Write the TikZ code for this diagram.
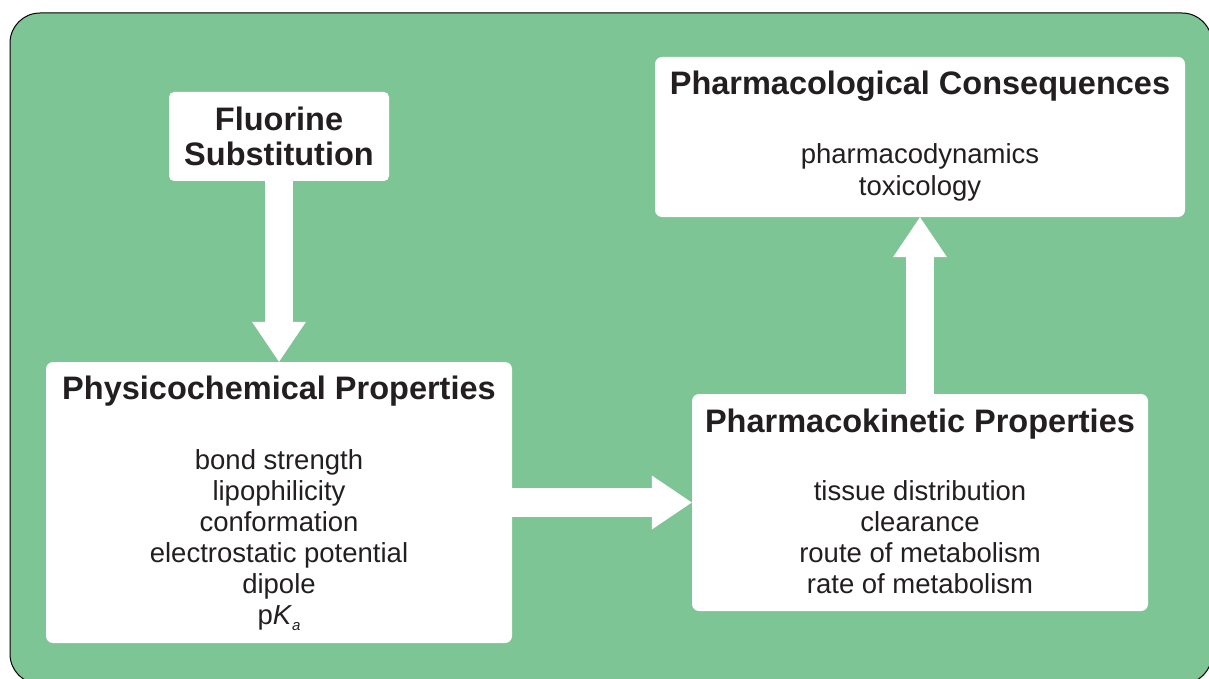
\documentclass[tikz,border=0pt]{standalone}
\usepackage{fontspec}
\setmainfont{Liberation Sans}
\usetikzlibrary{arrows.meta,positioning}
\definecolor{panelGreen}{HTML}{7DC594}
\definecolor{panelInk}{HTML}{231F20}
\tikzset{
  card/.style={
    rectangle,
    rounded corners=7pt,
    fill=white,
    draw=none,
    inner sep=0pt
  },
  heading/.style={
    anchor=base,
    inner sep=0pt,
    text=panelInk,
    font=\fontsize{32.5}{35}\selectfont\bfseries
  },
  item/.style={
    anchor=base,
    inner sep=0pt,
    text=panelInk,
    font=\fontsize{27.5}{31}\selectfont
  },
  blockArrow/.style={
    draw=white,
    line width=28pt,
    -{Triangle[width=54pt,length=40pt,line width=0pt]}
  }
}

\begin{document}
\begin{tikzpicture}[x=1pt,y=-1pt]
  \useasboundingbox (0,0) rectangle (1209,679);
  \clip (0,0) rectangle (1209,679);
  \draw[fill=panelGreen,draw=black,line width=1pt,rounded corners=30pt] (10,13) rectangle (1212,684);

  % cards
  \node[card,minimum width=220pt,minimum height=89pt,rounded corners=5pt,align=center,
        text=panelInk,font=\fontsize{32.5}{35}\selectfont\bfseries] (fluorine) at (279,136.5) {Fluorine\\Substitution};
  \node[card,minimum width=466pt,minimum height=281pt] (physchem) at (279,502.5) {};
  \node[card,minimum width=456pt,minimum height=217pt] (kinetic) at (920,502.5) {};
  \node[card,minimum width=530pt,minimum height=160pt] (consequence) at (920,137) {};

  % headings
  \node[heading] (physchemTitle) at (279,399) {Physicochemical Properties};
  \node[heading] (kineticTitle) at (920,432) {Pharmacokinetic Properties};
  \node[heading] (consequenceTitle) at (920,95) {Pharmacological Consequences};

  % lists
  \foreach \txt [count=\i from 0] in {bond strength,lipophilicity,conformation,electrostatic potential,dipole,{p\textit{K}\raisebox{-6pt}{\fontsize{15}{15}\selectfont\textit{a}}}}
    \node[item] (physchemItem\i) at (279,469+31*\i) {\txt};
  \foreach \txt [count=\i from 0] in {tissue distribution,clearance,route of metabolism,rate of metabolism}
    \node[item] (kineticItem\i) at (920,500+31*\i) {\txt};
  \foreach \txt [count=\i from 0] in {pharmacodynamics,toxicology}
    \node[item] (consequenceItem\i) at (920,164+31*\i) {\txt};

  % arrows
  \draw[blockArrow] (fluorine.south) -- (physchem.north);
  \draw[blockArrow,line width=29pt] (physchem.east) -- (kinetic.west);
  \draw[blockArrow] (kinetic.north) -- (consequence.south);
\end{tikzpicture}
\end{document}
